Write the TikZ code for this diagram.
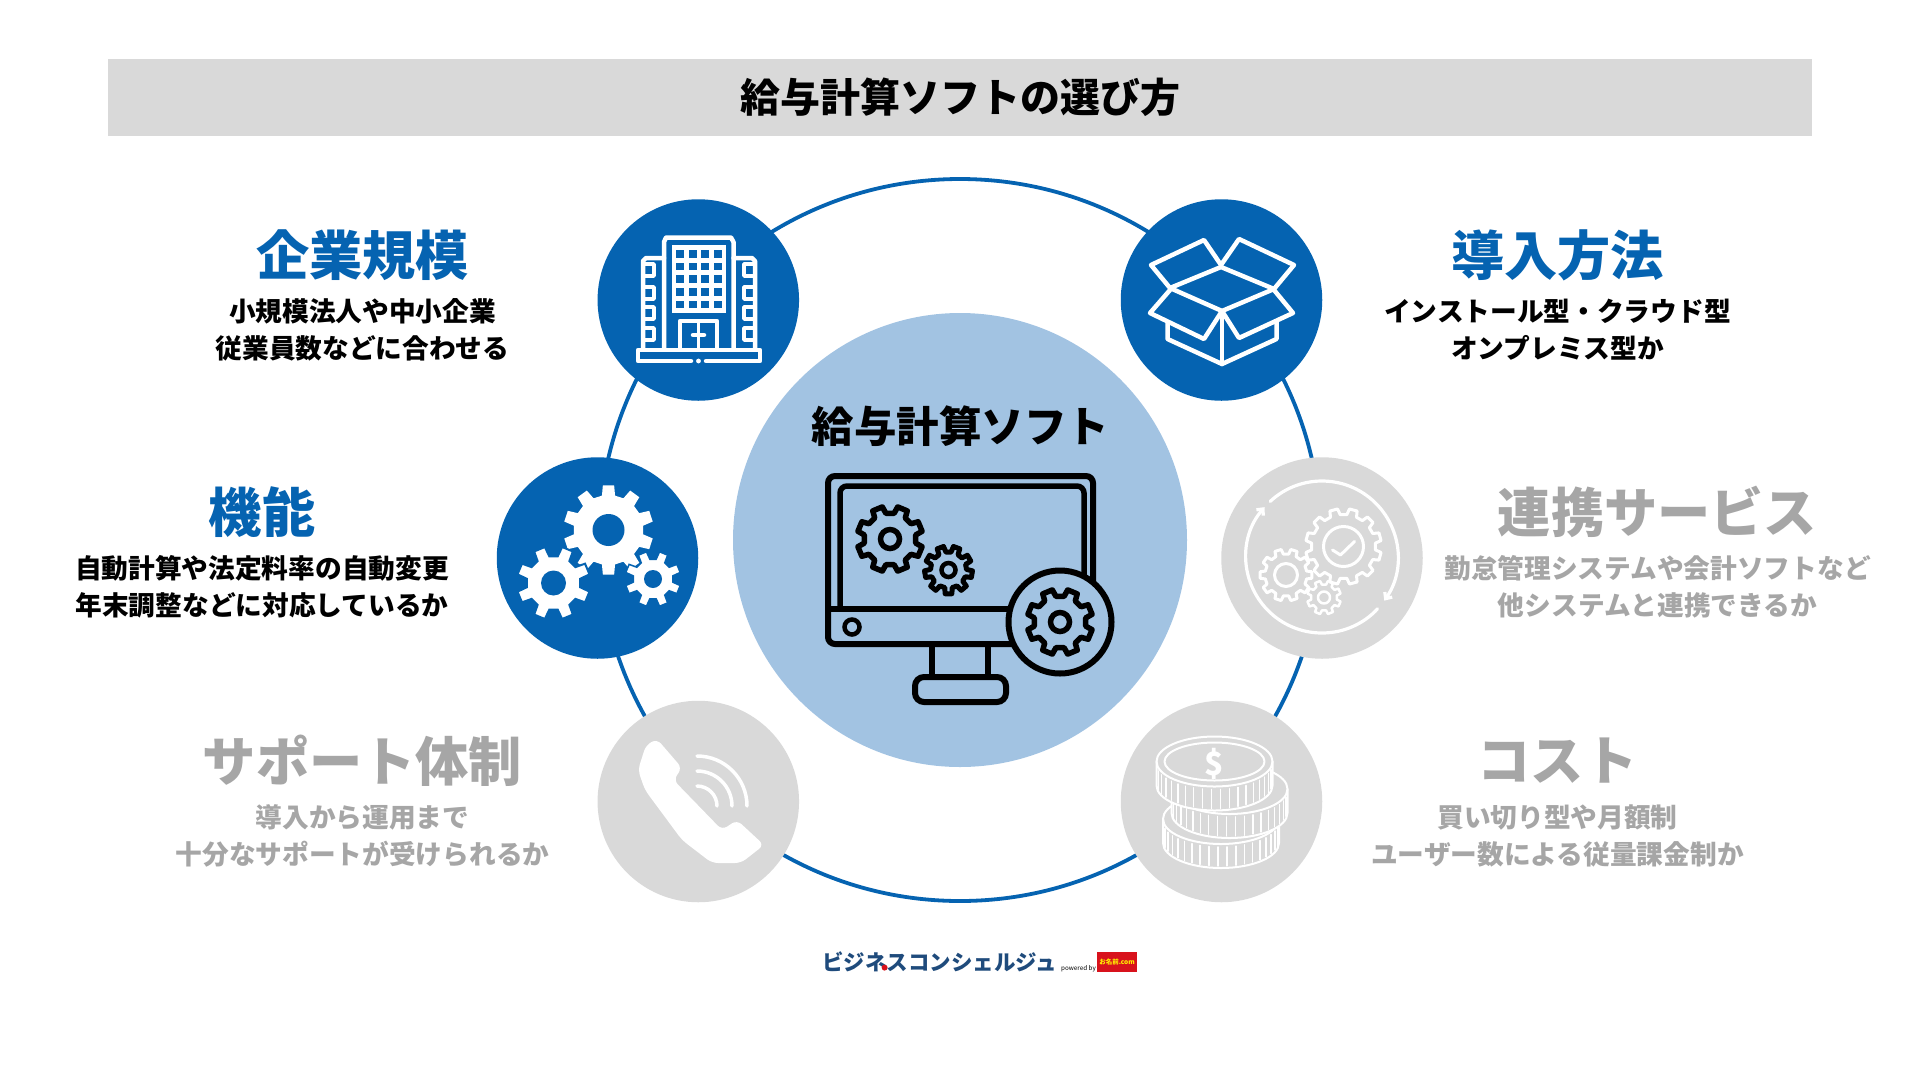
\documentclass[tikz,border=0pt]{standalone}
\usepackage{fontspec}
\setmainfont{Noto Sans CJK JP}
\usetikzlibrary{arrows,arrows.meta,shapes,calc,positioning}
\definecolor{bizblue}{HTML}{0563B1}
\definecolor{paleblue}{HTML}{A2C3E2}
\definecolor{hubgrey}{HTML}{D9D9D9}
\definecolor{textgrey}{HTML}{A6A6A6}
\definecolor{logonavy}{HTML}{1F4B7C}
\definecolor{logored}{HTML}{D8121C}
\tikzset{
	hub/.style={circle,minimum size=201.5pt,inner sep=0pt},
	headtxt/.style={font=\fontsize{53.2}{60}\selectfont\bfseries,inner sep=0pt},
	subtxt/.style={font=\fontsize{26.7}{37}\selectfont\bfseries,align=center,inner sep=0pt},
	iconline/.style={draw=white,line width=#1,line join=round,line cap=round},
}
% gear: style, x, y, outer radius, root radius, teeth, phase
\newcommand{\gearicon}[7][]{
	\pgfmathsetmacro{\gearstep}{360/#6}
	\draw [#1] ([shift={(#2,#3)}]#7-0.3*\gearstep:#5)
	\foreach \gearno [evaluate=\gearno as \gearang using #7+(\gearno-1)*\gearstep] in {1,...,#6} {
		-- ([shift={(#2,#3)}]\gearang-0.3*\gearstep:#5)
		-- ([shift={(#2,#3)}]\gearang-0.2*\gearstep:#4)
		-- ([shift={(#2,#3)}]\gearang+0.2*\gearstep:#4)
		-- ([shift={(#2,#3)}]\gearang+0.3*\gearstep:#5)
	} -- cycle;
}
% coin: x, y of the top face, x radius, y radius, height
\newcommand{\coinicon}[5]{
	\fill [hubgrey] (#1-#3,#2) -- (#1-#3,#2+#5) arc[start angle=180,end angle=0,x radius=#3,y radius=#4] -- (#1+#3,#2) arc[start angle=0,end angle=-180,x radius=#3,y radius=#4];
	\draw [iconline=2pt] (#1-#3,#2) -- (#1-#3,#2+#5) arc[start angle=180,end angle=0,x radius=#3,y radius=#4] -- (#1+#3,#2);
	\draw [iconline=2pt] (#1,#2) ellipse [x radius=#3,y radius=#4];
	\foreach \coinang in {12,21,...,170}
		\draw [iconline=1.5pt] ({#1+#3*cos(\coinang)},{#2+#4*sin(\coinang)+3}) -- ++(0,#5-5);
}
\begin{document}
\begin{tikzpicture}[x=1pt,y=-1pt]
		\useasboundingbox (0,0) rectangle (1920,1080);
		% title bar
		\node [fill=hubgrey,minimum width=1704pt,minimum height=77pt,inner sep=0pt,font=\fontsize{40}{48}\selectfont\bfseries] (titlebar) at (960,97.5) {給与計算ソフトの選び方};
		% ring and circles
		\node [circle,draw=bizblue,line width=3.8pt,minimum size=722pt,inner sep=0pt] (ring) at (960,540) {};
		\node [circle,fill=paleblue,minimum size=454pt,inner sep=0pt] (core) at (960,540) {};
		\node [hub,fill=bizblue] (sizehub) at (698.3,300) {};
		\node [hub,fill=bizblue] (installhub) at (1221.5,300) {};
		\node [hub,fill=bizblue] (funchub) at (597.5,558) {};
		\node [hub,fill=hubgrey] (linkhub) at (1322,558) {};
		\node [hub,fill=hubgrey] (supporthub) at (698.3,801.5) {};
		\node [hub,fill=hubgrey] (costhub) at (1221.5,801.5) {};
		% texts
		\node [font=\fontsize{42.5}{50}\selectfont\bfseries,inner sep=0pt] (coretxt) at (960.5,426) {給与計算ソフト};
		\node [headtxt,text=bizblue] (sizehead) at (362.5,255) {企業規模};
		\node [subtxt] (sizesub) at (362.5,329.5) {小規模法人や中小企業\\従業員数などに合わせる};
		\node [headtxt,text=bizblue] (installhead) at (1557.5,255) {導入方法};
		\node [subtxt] (installsub) at (1557.5,329.5) {インストール型・クラウド型\\オンプレミス型か};
		\node [headtxt,text=bizblue] (funchead) at (262,512) {機能};
		\node [subtxt] (funcsub) at (262,586.5) {自動計算や法定料率の自動変更\\年末調整などに対応しているか};
		\node [headtxt,text=textgrey] (linkhead) at (1657.5,512) {連携サービス};
		\node [subtxt,text=textgrey] (linksub) at (1657.5,586.5) {勤怠管理システムや会計ソフトなど\\他システムと連携できるか};
		\node [headtxt,text=textgrey] (supporthead) at (362.5,760.5) {サポート体制};
		\node [subtxt,text=textgrey] (supportsub) at (362.5,836) {導入から運用まで\\十分なサポートが受けられるか};
		\node [headtxt,text=textgrey] (costhead) at (1557.5,760.5) {コスト};
		\node [subtxt,text=textgrey] (costsub) at (1557.5,836) {買い切り型や月額制\\ユーザー数による従量課金制か};
		% monitor
		\draw [line width=6pt,rounded corners=7pt] (828,644) rectangle (1093,476);
		\draw [line width=5.5pt,rounded corners=7pt] (840,609) -- (840,486) -- (1084,486) -- (1084,609);
		\draw [line width=6pt] (827,609) -- (1020,609);
		\draw [line width=4.5pt] (852,627) circle (7.5);
		\draw [line width=6pt] (932,646) -- (932,676);
		\draw [line width=6pt] (988,646) -- (988,676);
		\draw [line width=6pt,rounded corners=9pt] (915,677) rectangle (1006,702);
		\gearicon[line width=5.5pt,line join=round]{890}{539}{26}{33}{8}{-90}
		\draw [line width=5.5pt] (890,539) circle (9.5);
		\gearicon[line width=5pt,line join=round]{948.5}{570}{18}{24}{9}{-90}
		\draw [line width=4.5pt] (948.5,570) circle (7);
		\draw [line width=6pt,fill=paleblue] (1060,622) circle (51.5);
		\gearicon[line width=5.5pt,line join=round]{1060}{622}{26}{33}{8}{-90}
		\draw [line width=5.5pt] (1060,622) circle (9.5);
		% building
		\fill [white] (672,245) rectangle (726,313);
		\foreach \cellx in {675.5,688.6,701,713.7}
			\foreach \celly in {250,262.7,275.3,288,300.7}
				\fill [bizblue] (\cellx,\celly) rectangle ++(8.4,7.5);
		\draw [iconline=4.5pt] (664,348) -- (664,242) -- (666,237.5) -- (731,237.5) -- (733.5,242) -- (733.5,348);
		\draw [iconline=4.5pt] (664,258) -- (646,258) -- (643,261) -- (643,348);
		\draw [iconline=4.5pt] (733.5,258) -- (752,258) -- (755,261) -- (755,348);
		\foreach \winy in {270,293,313,334} {
			\draw [iconline=3.5pt] (643,\winy-6) -- (654,\winy-6) -- (654,\winy+6) -- (643,\winy+6);
			\draw [iconline=3.5pt] (755,\winy-6) -- (744,\winy-6) -- (744,\winy+6) -- (755,\winy+6);
		}
		\draw [iconline=4.5pt] (691,361) -- (638,361) -- (638,350) -- (760,350) -- (760,361) -- (706,361);
		\fill [white] (698.5,361) circle (2.4);
		\draw [iconline=4.5pt] (680,348) -- (680,321) -- (717,321) -- (717,348);
		\draw [iconline=3.5pt] (698.5,321) -- (698.5,348);
		\draw [iconline=4.5pt] (693,335) -- (704,335);
		% box
		\draw [iconline=4.5pt] (1221,267) -- (1274,289) -- (1222,311) -- (1170,288) -- cycle;
		\draw [iconline=4.5pt] (1170,288) -- (1151,265) -- (1204,240) -- (1221,265);
		\draw [iconline=4.5pt] (1221,265) -- (1239,239) -- (1294,265) -- (1274,289);
		\draw [iconline=4.5pt] (1170,290) -- (1150,313) -- (1204,339) -- (1222,311);
		\draw [iconline=4.5pt] (1274,290) -- (1293,313) -- (1239,338) -- (1222,311);
		\draw [iconline=4.5pt] (1167.5,323) -- (1167.5,339) -- (1222,364) -- (1276.5,339) -- (1276.5,322);
		\draw [iconline=4.5pt] (1222,311) -- (1222,364);
		% solid gears
		\gearicon[fill=white,draw=none]{608.5}{530}{35}{45}{10}{-72}
		\fill [bizblue] (608.5,530) circle (16);
		\gearicon[fill=white,draw=bizblue,line width=2pt]{553.5}{583}{27}{37}{8}{-90}
		\fill [bizblue] (553.5,583) circle (12.5);
		\gearicon[fill=white,draw=bizblue,line width=1.5pt]{653}{579}{20}{28}{8}{-90}
		\fill [bizblue] (653,579) circle (9);
		% outline gears and arrows
		\draw [iconline=3.2pt,-{Straight Barb[length=5pt,width=9pt]}] (1322,557) ++(227:76) arc[start angle=227,end angle=395,radius=76];
		\draw [iconline=3.2pt,-{Straight Barb[length=5pt,width=9pt]}] (1322,557) ++(43:76) arc[start angle=43,end angle=221,radius=76];
		\gearicon[iconline=3pt]{1343.5}{546.5}{32}{38}{12}{-90}
		\draw [iconline=3pt] (1343.5,546.5) circle (20);
		\draw [iconline=3pt] (1332.5,550) -- (1340.5,555) -- (1354.5,541.5);
		\gearicon[iconline=3pt]{1286}{575}{21}{26}{10}{-90}
		\draw [iconline=3pt] (1286,575) circle (11.5);
		\gearicon[iconline=2.5pt]{1324}{597.5}{13}{17}{8}{-90}
		\draw [iconline=2.5pt] (1324,597.5) circle (6);
		% phone
		\fill [white,rounded corners=6pt] (657,739) -- (682,768) -- (673.5,780) -- (722,830) -- (737,820) -- (764,845) -- (741,863) -- (712,863) -- (682,840) -- (645,790) -- (638,770) -- (646,745) -- cycle;
		\draw [iconline=3.5pt] (697,756) arc[start angle=270,end angle=360,radius=50];
		\draw [iconline=3.5pt] (697,771) arc[start angle=270,end angle=360,radius=35];
		\draw [iconline=3.5pt] (697,786) arc[start angle=270,end angle=360,radius=20];
		% coins
		\coinicon{1221}{819}{58}{25}{24}
		\coinicon{1229.5}{789}{58}{25}{24}
		\coinicon{1214.5}{761.5}{58}{25}{24}
		\draw [iconline=2pt] (1214.5,761.5) ellipse [x radius=50,y radius=19];
		\node [font=\fontsize{32}{36}\selectfont\bfseries,text=white,inner sep=0pt] (dollar) at (1214.5,764) {\$};
		% logo
		\node [font=\fontsize{21.5}{24}\selectfont\bfseries,text=logonavy,inner sep=0pt] (logotxt) at (939.5,962) {ビジネスコンシェルジュ};
		\fill [logored] (884.6,967.6) circle (3);
		\node [font=\fontsize{6.3}{8}\selectfont,inner sep=0pt] (powered) at (1078.5,968.5) {powered by};
		\node [fill=logored,minimum width=40pt,minimum height=20pt,inner sep=0pt,text=yellow,font=\fontsize{6.5}{8}\selectfont\bfseries] (onamae) at (1117,962) {お名前.com};
\end{tikzpicture}
\end{document}
